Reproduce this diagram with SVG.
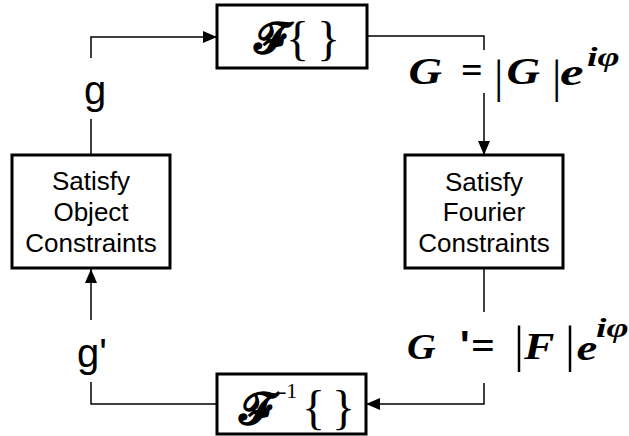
<svg xmlns="http://www.w3.org/2000/svg" width="629" height="436" viewBox="0 0 629 436">
<defs>
<marker id="ah" markerUnits="userSpaceOnUse" markerWidth="14" markerHeight="12" refX="14" refY="6" orient="auto">
<path d="M0,0 L14,6 L0,12 z" fill="#000"/>
</marker>
<style>
.box{fill:#fff;stroke:#000;stroke-width:3}
.ln{fill:none;stroke:#000;stroke-width:1.5}
.lbl{font-family:"Liberation Sans",Arial,sans-serif;font-size:26px;fill:#000;text-anchor:middle}
.g{font-family:"Liberation Sans",Arial,sans-serif;font-size:40px;fill:#000}
.m{font-family:"Liberation Serif","Times New Roman",serif;font-weight:bold;font-style:italic;fill:#000}
.r{font-family:"Liberation Serif","Times New Roman",serif;fill:#000}
.scr{font-family:"DejaVu Serif","DejaVu Sans",serif;font-weight:bold;fill:#000}
</style>
</defs>
<rect width="629" height="436" fill="#fff"/>
<g id="connectors">
<path class="ln" d="M91,155 V119"/>
<path class="ln" d="M91,58 V37 H217" marker-end="url(#ah)"/>
<path class="ln" d="M367,36 H484 V50"/>
<path class="ln" d="M484,93 V155" marker-end="url(#ah)"/>
<path class="ln" d="M484,268 V312"/>
<path class="ln" d="M484,383 V404 H366" marker-end="url(#ah)"/>
<path class="ln" d="M217,404 H91 V382"/>
<path class="ln" d="M91,320 V269" marker-end="url(#ah)"/>
</g>
<g id="fourier">
<rect class="box" x="217" y="5" width="150" height="63"/>
<text><tspan class="scr" x="254" y="53" font-size="44">𝓕</tspan><tspan class="r" x="286" y="55" font-size="48">{</tspan><tspan class="r" x="317" y="55" font-size="48">}</tspan></text>
</g>
<g id="fourier-constraints">
<rect class="box" x="405" y="155" width="158" height="113"/>
<text class="lbl" x="484" y="191">Satisfy</text>
<text class="lbl" x="484" y="221">Fourier</text>
<text class="lbl" x="484" y="252">Constraints</text>
</g>
<g id="inverse">
<rect class="box" x="217" y="374" width="149" height="60"/>
<text><tspan class="scr" x="239" y="424" font-size="45">𝓕</tspan><tspan class="r" x="279" y="398" font-size="22">-1</tspan><tspan class="r" x="302" y="424" font-size="48">{</tspan><tspan class="r" x="332" y="424" font-size="48">}</tspan></text>
</g>
<g id="object-constraints">
<rect class="box" x="12" y="155" width="158" height="113"/>
<text class="lbl" x="91" y="190">Satisfy</text>
<text class="lbl" x="91" y="221">Object</text>
<text class="lbl" x="91" y="252">Constraints</text>
</g>
<g id="label-g"><text class="g" x="95" y="104" text-anchor="middle">g</text></g>
<g id="label-gp"><text class="g" x="77" y="367">g'</text></g>
<g id="eq-G">
<text class="m" font-size="38" transform="translate(408.5,84) scale(1.22,1)">G</text>
<text class="r" font-weight="bold" font-size="38" x="461" y="83">=</text>
<text class="r" font-size="47" x="494" y="92">|</text>
<text class="m" font-size="38" transform="translate(506.5,84) scale(1.22,1)">G</text>
<text class="r" font-size="47" x="552" y="92">|</text>
<text class="m" font-size="38" transform="translate(560,85) scale(1.4,1)">e</text>
<text class="m" font-size="28" transform="translate(587,66) scale(1.35,1)">iφ</text>
</g>
<g id="eq-Gp">
<text class="m" font-size="36" transform="translate(407,359) scale(1.1,1)">G</text>
<text class="g" font-weight="bold" font-size="36" x="460" y="359">'</text>
<text class="r" font-weight="bold" font-size="42" x="471" y="359">=</text>
<text class="r" font-size="50" x="514" y="361">|</text>
<text class="m" font-size="38" transform="translate(524,359) scale(1.2,1)">F</text>
<text class="r" font-size="50" x="565" y="361">|</text>
<text class="m" font-size="36" transform="translate(576.5,360) scale(1.3,1)">e</text>
<text class="m" font-size="28" transform="translate(596,337) scale(1.35,1)">iφ</text>
</g>
</svg>
